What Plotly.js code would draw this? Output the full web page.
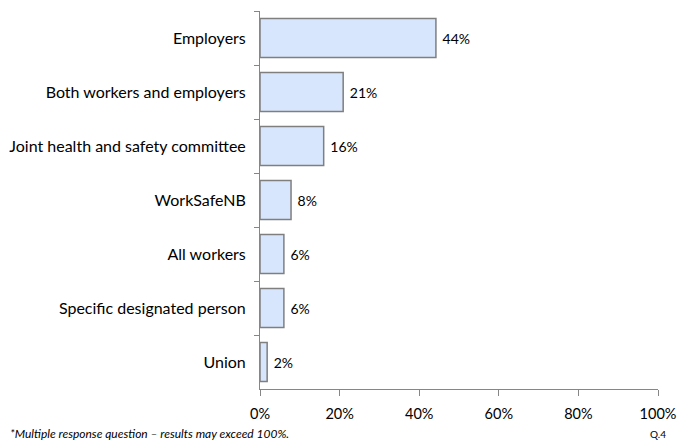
<!DOCTYPE html>
<html>
<head>
<meta charset="utf-8">
<script src="https://cdn.plot.ly/plotly-3.0.1.min.js"></script>
<style>html,body{margin:0;padding:0;background:#fff;}#chart{width:679px;height:441px;}</style>
</head>
<body>
<div id="chart"></div>
<script>
const categories = ["Employers","Both workers and employers","Joint health and safety committee","WorkSafeNB","All workers","Specific designated person","Union"];
const values = [44.2, 20.9, 16, 7.8, 6, 6, 1.8];
const labels = ["44%","21%","16%","8%","6%","6%","2%"];
const xTickVals = [0,20,40,60,80,100];
const xTickText = ["0%","20%","40%","60%","80%","100%"];
const footnote = "*Multiple response question – results may exceed 100%.";
const qref = "Q.4";

const trace = {
  type: "bar",
  orientation: "h",
  y: categories,
  x: values,
  text: labels.map(s => "\u00a0" + s),
  textposition: "outside",
  cliponaxis: false,
  textfont: {family: "Lato, sans-serif", size: 14, color: "#000"},
  marker: {color: "#d7e6fc", line: {color: "#7f7f7f", width: 1.5}},
  width: 0.72,
  hoverinfo: "none"
};

const layout = {
  width: 679, height: 441,
  margin: {l: 260, r: 21, t: 11, b: 52},
  paper_bgcolor: "#fff", plot_bgcolor: "#fff",
  showlegend: false,
  font: {family: "Lato, sans-serif", size: 14, color: "#000"},
  xaxis: {
    range: [0, 100], tickvals: xTickVals, ticktext: xTickText,
    showgrid: false, zeroline: false, showline: true, linecolor: "#868686", linewidth: 1,
    ticks: "outside", ticklen: 6, tickcolor: "#868686", ticklabelstandoff: 6,
    tickfont: {family: "Lato, sans-serif", size: 14.5, color: "#000"},
    fixedrange: true
  },
  yaxis: {
    type: "category", autorange: "reversed",
    showgrid: false, zeroline: false, showline: true, linecolor: "#868686", linewidth: 1,
    ticks: "outside", tickson: "boundaries", ticklen: 5, tickcolor: "#868686", ticklabelstandoff: 10,
    tickfont: {family: "Lato, sans-serif", size: 16, color: "#000"},
    fixedrange: true
  },
  annotations: [
    {text: footnote, xref: "paper", yref: "paper", x: -0.633, y: -0.117, xanchor: "left", yanchor: "middle", showarrow: false,
     font: {family: "Lato, sans-serif", size: 12, color: "#000", style: "italic"}},
    {text: qref, xref: "paper", yref: "paper", x: 0.975, y: -0.12, xanchor: "left", yanchor: "middle", showarrow: false,
     font: {family: "Lato, sans-serif", size: 10, color: "#000"}}
  ]
};

Plotly.newPlot("chart", [trace], layout, {staticPlot: true, displayModeBar: false});
</script>
</body>
</html>
